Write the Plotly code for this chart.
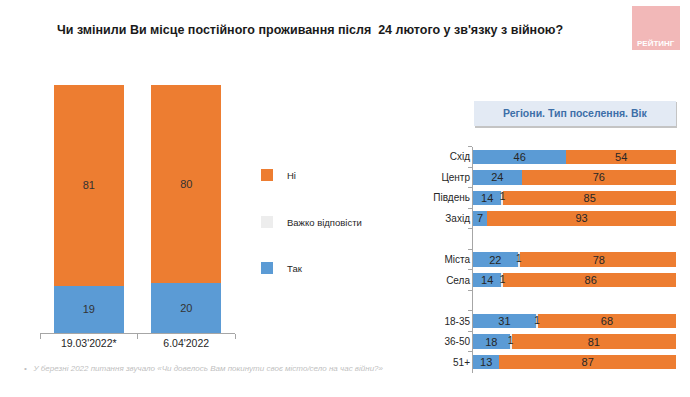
import plotly.graph_objects as go

W, H = 690, 397

# ---- data ----
title_text = "Чи змінили Ви місце постійного проживання після  24 лютого у зв'язку з війною?"
left_dates = ["19.03'2022*", "6.04'2022"]
left_tak = [19, 20]
left_vazhko = [0, 0]
left_ni = [81, 80]

right_cats = ["Схід", "Центр", "Південь", "Захід", " ", "Міста", "Села", "  ", "18-35", "36-50", "51+"]
right_tak = [46, 24, 14, 7, None, 22, 14, None, 31, 18, 13]
right_vazhko = [0, 0, 1, 0, None, 1, 1, None, 1, 1, 0]
right_ni = [54, 76, 85, 93, None, 78, 86, None, 68, 81, 87]

series_names = ["Так", "Важко відповісти", "Ні"]
colors = {"Так": "#5B9BD5", "Важко відповісти": "#EDEDED", "Ні": "#ED7D31"}

footnote = "•   У березні 2022 питання звучало «Чи довелось Вам покинути своє місто/село на час війни?»"
panel_title = "Регіони. Тип поселення. Вік"

FONT = "Liberation Sans, Arial, sans-serif"

fig = go.Figure()

# ---- left stacked columns ----
left_vals = {"Так": left_tak, "Важко відповісти": left_vazhko, "Ні": left_ni}
legend_ids = {"Ні": "legend", "Важко відповісти": "legend2", "Так": "legend3"}
for name in series_names:
    vals = left_vals[name]
    fig.add_trace(go.Bar(
        x=left_dates, y=vals, name=name,
        marker=dict(color=colors[name], line=dict(width=0)),
        text=[str(v) if v else "" for v in vals],
        textposition="inside", insidetextanchor="middle", textangle=0,
        textfont=dict(family=FONT, size=11, color="#333333"),
        xaxis="x", yaxis="y", legend=legend_ids[name],
        hoverinfo="skip",
    ))

# ---- right stacked horizontal bars ----
right_vals = {"Так": right_tak, "Важко відповісти": right_vazhko, "Ні": right_ni}
for name in series_names:
    vals = right_vals[name]
    fig.add_trace(go.Bar(
        y=right_cats, x=vals, orientation="h", name=name, width=0.7,
        marker=dict(color=colors[name], line=dict(width=0)),
        text=[str(v) if (v and name != "Важко відповісти") else "" for v in vals],
        textposition="inside", insidetextanchor="middle", textangle=0,
        constraintext="none",
        textfont=dict(family=FONT, size=11, color="#262626"),
        xaxis="x2", yaxis="y2", showlegend=False, hoverinfo="skip",
    ))

# labels for the thin "Важко відповісти" segments
lab_x, lab_y, lab_t = [], [], []
for c, t, v in zip(right_cats, right_tak, right_vazhko):
    if v:
        lab_x.append(t + v / 2)
        lab_y.append(c)
        lab_t.append(str(v))
fig.add_trace(go.Scatter(
    x=lab_x, y=lab_y, text=lab_t, mode="text",
    textfont=dict(family=FONT, size=10, color="#262626"),
    xaxis="x2", yaxis="y2", showlegend=False, hoverinfo="skip",
))

def px_x(x):
    return x / W

def px_y(y):
    return 1 - y / H

legend_common = dict(
    font=dict(family=FONT, size=9.5, color="#262626"),
    bgcolor="rgba(0,0,0,0)", itemwidth=30, xanchor="left", yanchor="middle",
    x=px_x(247),
)

fig.update_layout(
    width=W, height=H,
    margin=dict(l=0, r=0, t=0, b=0),
    paper_bgcolor="white", plot_bgcolor="white",
    barmode="stack",
    showlegend=True,
    xaxis=dict(domain=[px_x(40), px_x(235)], showline=True, linecolor="#A6A6A6",
               ticks="outside", tickson="boundaries", ticklen=5, tickcolor="#A6A6A6",
               tickfont=dict(family=FONT, size=10.5, color="#262626"), showgrid=False, fixedrange=True),
    yaxis=dict(domain=[px_y(333), px_y(85)], range=[0, 100], visible=False),
    xaxis2=dict(domain=[px_x(473), px_x(676)], range=[0, 100], visible=False),
    yaxis2=dict(domain=[px_y(372.5), px_y(146.5)], autorange="reversed", showline=True,
                linecolor="#A6A6A6", ticks="outside", tickson="boundaries", ticklen=4,
                tickcolor="#A6A6A6", tickfont=dict(family=FONT, size=10, color="#262626"),
                showgrid=False, anchor="x2", type="category"),
    bargap=0.28,
    legend=dict(**legend_common, y=px_y(175)),
    legend2=dict(**legend_common, y=px_y(222)),
    legend3=dict(**legend_common, y=px_y(268)),
)

shapes = [
    # header box shadow and box
    dict(type="rect", xref="paper", yref="paper", x0=px_x(475), x1=px_x(677),
         y0=px_y(128), y1=px_y(102), fillcolor="#C4C4C4", line=dict(width=0), layer="below"),
    dict(type="rect", xref="paper", yref="paper", x0=px_x(474), x1=px_x(676),
         y0=px_y(126), y1=px_y(101), fillcolor="#E3EAF4", line=dict(width=0), layer="below"),
    # logo
    dict(type="rect", xref="paper", yref="paper", x0=px_x(632), x1=px_x(680),
         y0=px_y(50), y1=px_y(6), fillcolor="#F2B8B8", line=dict(width=0)),
]
fig.update_layout(shapes=shapes)

annotations = [
    dict(text=title_text, xref="paper", yref="paper", x=px_x(55), y=px_y(30),
         xanchor="left", yanchor="middle", showarrow=False,
         font=dict(family=FONT, size=12.5, color="#1a1a1a", weight="bold")),
    dict(text=panel_title, xref="paper", yref="paper", x=px_x(575), y=px_y(113.5),
         xanchor="center", yanchor="middle", showarrow=False,
         font=dict(family=FONT, size=10.5, color="#3D6FA8", weight="bold")),
    dict(text="РЕЙТИНГ", xref="paper", yref="paper", x=px_x(656), y=px_y(43),
         xanchor="center", yanchor="middle", showarrow=False,
         font=dict(family=FONT, size=8, color="white", weight="bold")),
    dict(text=footnote, xref="paper", yref="paper", x=px_x(22), y=px_y(368),
         xanchor="left", yanchor="middle", showarrow=False,
         font=dict(family=FONT, size=8, color="#BFBFBF", style="italic")),
]
fig.update_layout(annotations=annotations)

fig.write_html("out.html", config={"displayModeBar": False},
               post_script="document.body.style.margin='0';")
